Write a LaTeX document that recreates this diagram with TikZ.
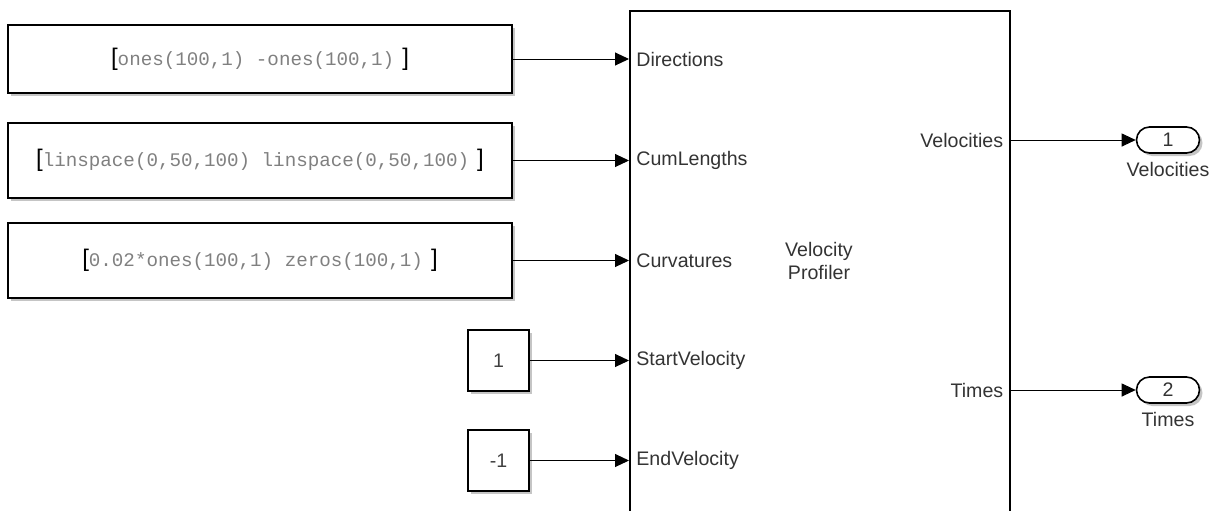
\documentclass[tikz,border=0pt]{standalone}
\usepackage{fontspec}
\setmainfont{Liberation Sans}
\newfontfamily\codefont{Liberation Mono}
\usepackage{xcolor}
\usepackage{tikz}
\usetikzlibrary{positioning,calc,arrows.meta,shapes.misc,shadows}

\tikzset{
  blk/.style={draw, line width=0.8pt, fill=white,
    drop shadow={shadow xshift=1.5pt, shadow yshift=-1.5pt, fill=black!45, opacity=0.5}},
  constblk/.style={blk, minimum width=252pt, inner sep=0pt},
  numblk/.style={blk, minimum width=30.5pt, minimum height=30.5pt, inner sep=0pt,
    font=\fontsize{9.8}{12}\selectfont, text=black!75},
  portlbl/.style={font=\fontsize{9.8}{12}\selectfont, text=black!80, inner xsep=3.5pt, inner ysep=1pt},
  outport/.style={blk, rounded rectangle, minimum width=31.5pt, minimum height=13pt, inner sep=0pt,
    font=\fontsize{9.8}{12}\selectfont, text=black!80},
  sig/.style={line width=0.5pt, -{Triangle[length=7pt,width=6.5pt]}},
}
\newcommand{\brk}[1]{{\fontsize{12}{12}\selectfont #1}}
\newcommand{\code}[1]{{\codefont\fontsize{9.6}{12}\selectfont\color{black!50}#1}}

\begin{document}
\begin{tikzpicture}[x=0.5pt, y=-0.5pt]
  \useasboundingbox (0,0) rectangle (1211,510);
  \clip (0,0) rectangle (1211,510);

  % profiler block
  \node[draw, line width=0.8pt, minimum width=190pt, minimum height=260pt, anchor=north west, inner sep=0pt] (vp) at (629,10) {};
  \node[portlbl, align=center, font=\fontsize{9.8}{11.5}\selectfont] (vpname) at (819,261) {Velocity\\Profiler};

  % sources
  \node[constblk, minimum height=34pt] (dirs) at (260,59) {\brk{[}\code{ones(100,1) -ones(100,1)}\hspace{4pt}\brk{]}};
  \node[constblk, minimum height=37.5pt] (lens) at (260,160.5) {\brk{[}\code{linspace(0,50,100) linspace(0,50,100)}\hspace{4pt}\brk{]}};
  \node[constblk, minimum height=37.5pt] (curvs) at (260,260.5) {\brk{[}\code{0.02*ones(100,1) zeros(100,1)}\hspace{4pt}\brk{]}};
  \node[numblk] (vstart) at (498.5,360.5) {1};
  \node[numblk] (vend) at (498.5,460.5) {-1};

  % input ports
  \node[portlbl, anchor=west] (pdirs) at (dirs.east -| vp.west) {Directions};
  \node[portlbl, anchor=west] (plens) at (lens.east -| vp.west) {CumLengths};
  \node[portlbl, anchor=west] (pcurvs) at (curvs.east -| vp.west) {Curvatures};
  \node[portlbl, anchor=west] (pstart) at (vstart.east -| vp.west) {StartVelocity};
  \node[portlbl, anchor=west] (pend) at (vend.east -| vp.west) {EndVelocity};

  \draw[sig] (dirs.east) -- (pdirs.west);
  \draw[sig] (lens.east) -- (plens.west);
  \draw[sig] (curvs.east) -- (pcurvs.west);
  \draw[sig] (vstart.east) -- (pstart.west);
  \draw[sig] (vend.east) -- (pend.west);

  % outputs
  \node[outport] (out1) at (1168,140) {1};
  \node[outport] (out2) at (1168,390) {2};
  \node[portlbl, anchor=east] (pvel) at (vp.east |- out1) {Velocities};
  \node[portlbl, anchor=east] (ptimes) at (vp.east |- out2) {Times};
  \node[portlbl, below=3pt of out1] (out1lbl) {Velocities};
  \node[portlbl, below=3pt of out2] (out2lbl) {Times};

  \draw[sig] (pvel.east) -- (out1.west);
  \draw[sig] (ptimes.east) -- (out2.west);
\end{tikzpicture}
\end{document}
